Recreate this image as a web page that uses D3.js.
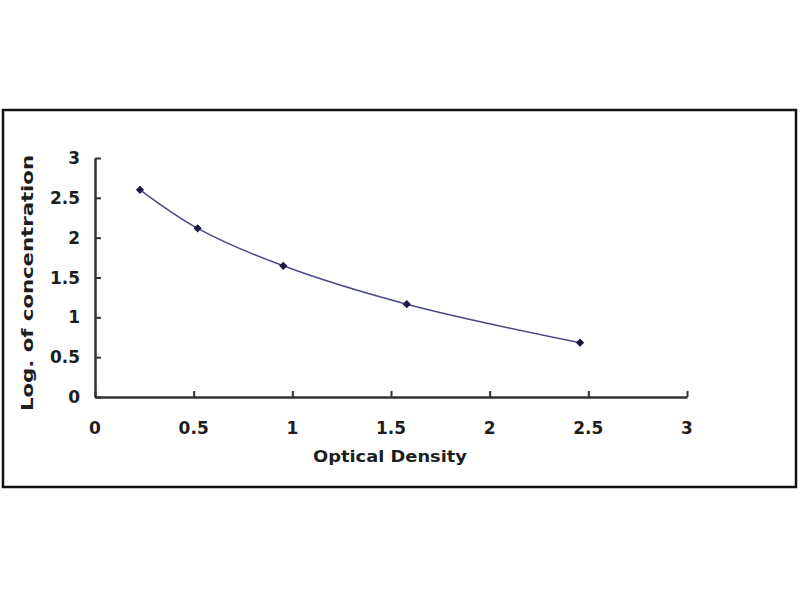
<!DOCTYPE html>
<html>
<head>
<meta charset="utf-8">
<script src="https://cdn.jsdelivr.net/npm/d3@7"></script>
<style>
  body { margin: 0; background: #fff; }
  svg text { font-family: "DejaVu Sans", Arial, sans-serif; font-weight: bold; fill: #1e1e1e; }
</style>
</head>
<body>
<div id="chart"></div>
<script>
// standard curve points
const opticalDensity = [0.228, 0.52, 0.954, 1.58, 2.458];
const logConcentration = [2.60, 2.117, 1.647, 1.165, 0.681];
const xTicks = [0, 0.5, 1, 1.5, 2, 2.5, 3];
const yTicks = [0, 0.5, 1, 1.5, 2, 2.5, 3];

const width = 800;
const height = 600;
const margin = {top: 158, right: 113, bottom: 203, left: 95};
const graphWidth = width - margin.left - margin.right;
const graphHeight = height - margin.top - margin.bottom;

const svg = d3.select('#chart')
    .append('svg')
    .attr('width', width)
    .attr('height', height);

// outer frame
svg.append('rect')
    .attr('x', 3)
    .attr('y', 110)
    .attr('width', 793)
    .attr('height', 377)
    .attr('fill', '#fff')
    .attr('stroke', '#111')
    .attr('stroke-width', 2.5);

const graph = svg.append('g')
    .attr('transform', `translate(${margin.left}, ${margin.top})`);

const xScale = d3.scaleLinear().domain([0, 3]).range([0, graphWidth]);
const yScale = d3.scaleLinear().domain([0, 3]).range([graphHeight, 0]);

// ticks point inward, labels drawn separately
const xAxis = d3.axisBottom(xScale).tickValues(xTicks).tickSizeInner(-6).tickSizeOuter(0).tickFormat('');
const yAxis = d3.axisLeft(yScale).tickValues(yTicks).tickSizeInner(-6).tickSizeOuter(0).tickFormat('');

const gx = graph.append('g')
    .attr('transform', `translate(0, ${graphHeight})`)
    .call(xAxis);
const gy = graph.append('g').call(yAxis);

[gx, gy].forEach(g => {
    g.select('.domain').attr('stroke', '#333').attr('stroke-width', 2.5);
    g.selectAll('.tick line').attr('stroke', '#333').attr('stroke-width', 2);
});

graph.selectAll('.xlab')
    .data(xTicks)
    .enter()
    .append('text')
    .attr('class', 'xlab')
    .attr('x', d => xScale(d))
    .attr('y', graphHeight + 37)
    .attr('text-anchor', 'middle')
    .style('font-size', '17px')
    .text(d => d);

graph.selectAll('.ylab')
    .data(yTicks)
    .enter()
    .append('text')
    .attr('class', 'ylab')
    .attr('x', -15)
    .attr('y', d => yScale(d) + 6)
    .attr('text-anchor', 'end')
    .style('font-size', '17px')
    .text(d => d);

// axis titles
svg.append('text')
    .text('Optical Density')
    .attr('x', 390)
    .attr('y', 462)
    .attr('text-anchor', 'middle')
    .attr('textLength', 154)
    .attr('lengthAdjust', 'spacingAndGlyphs')
    .style('font-size', '16px');

svg.append('text')
    .text('Log. of concentration')
    .attr('transform', 'translate(33, 283) rotate(-90)')
    .attr('text-anchor', 'middle')
    .attr('textLength', 256)
    .attr('lengthAdjust', 'spacingAndGlyphs')
    .style('font-size', '16px');

const points = opticalDensity.map((d, i) => [d, logConcentration[i]]);

const line = d3.line()
    .x(d => xScale(d[0]))
    .y(d => yScale(d[1]))
    .curve(d3.curveCatmullRom.alpha(0.5));

graph.append('path')
    .datum(points)
    .attr('d', line)
    .attr('fill', 'none')
    .attr('stroke', '#4a4a86')
    .attr('stroke-width', 1.5);

graph.selectAll('.marker')
    .data(points)
    .enter()
    .append('path')
    .attr('class', 'marker')
    .attr('d', d3.symbol(d3.symbolSquare, 34))
    .attr('transform', d => `translate(${xScale(d[0])}, ${yScale(d[1])}) rotate(45)`)
    .attr('fill', '#1b1b45');
</script>
</body>
</html>
